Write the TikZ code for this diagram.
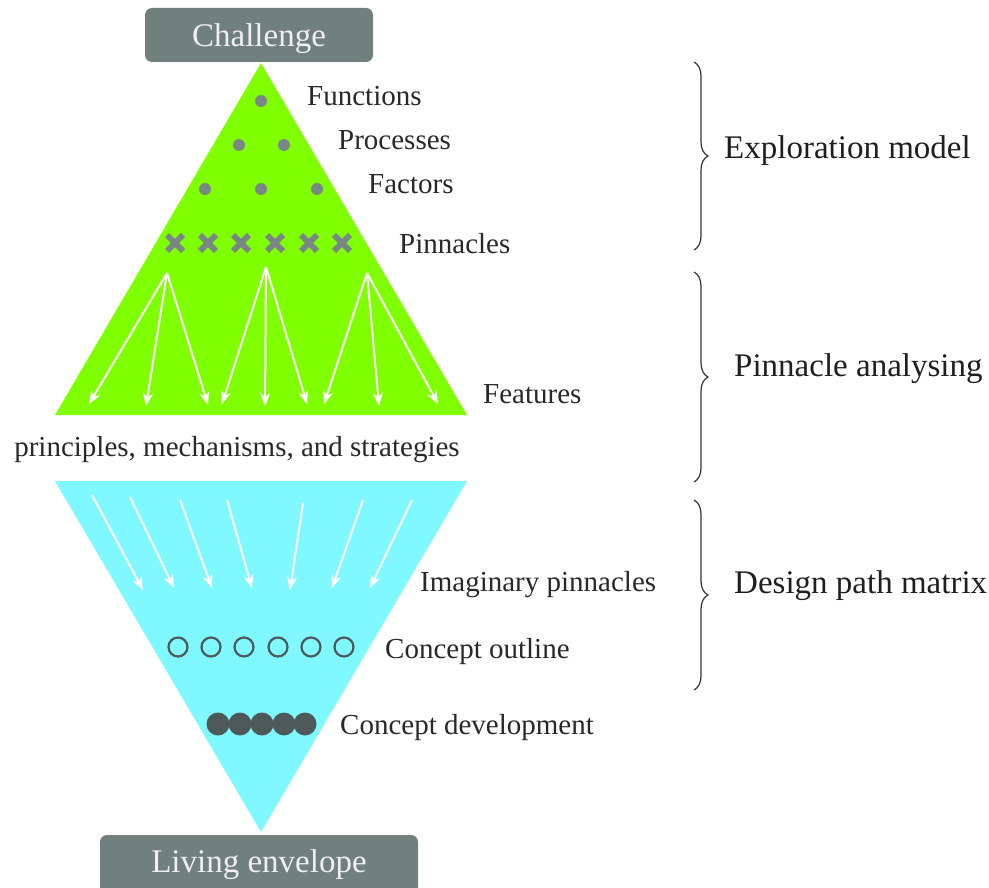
\documentclass[tikz,border=0pt]{standalone}
\usepackage{fontspec}
\setmainfont{Liberation Serif}
\usetikzlibrary{arrows.meta,decorations.pathreplacing}
\definecolor{boxgray}{RGB}{112,128,125}
\definecolor{dotgray}{RGB}{120,135,134}
\definecolor{darkcirc}{RGB}{77,90,89}
\definecolor{lime}{RGB}{128,255,0}
\definecolor{aqua}{RGB}{128,248,255}
\definecolor{txt}{RGB}{40,40,40}
\tikzset{
  titlebox/.style={fill=boxgray,rounded corners=7pt,text=white!94!black,font=\fontsize{33}{38}\selectfont,inner sep=0pt},
  lbl/.style={anchor=base west,text=txt,font=\fontsize{29}{34}\selectfont,inner sep=0pt},
  biglbl/.style={anchor=base west,text=black!88,font=\fontsize{33}{38}\selectfont,inner sep=0pt},
  dotmark/.style={circle,fill=dotgray,minimum size=12pt,inner sep=0pt},
  opencirc/.style={circle,draw=darkcirc,line width=2.2pt,minimum size=19pt,inner sep=0pt},
  fullcirc/.style={circle,fill=darkcirc,minimum size=23pt,inner sep=0pt},
  warrow/.style={draw=white,line width=2pt,-{Stealth[length=13pt,width=10pt]}},
  crossline/.style={draw=dotgray,line width=6pt},
  bracestyle/.style={draw=black!80,line width=1.2pt,decorate,decoration={brace,amplitude=14pt}},
}
\begin{document}
\begin{tikzpicture}[x=1pt,y=-1pt]
\useasboundingbox (0,0) rectangle (989,888);
% shapes
\fill[lime] (261,63) -- (467,415) -- (55,415) -- cycle;
\fill[aqua] (55,481) -- (467,481) -- (261,832) -- cycle;
% title boxes
\path[titlebox] (145,8) rectangle (373,62);
\node[titlebox,anchor=base,fill=none] (challenge) at (259,47) {Challenge};
\path[titlebox] (100,835) rectangle (418,900);
\node[titlebox,anchor=base,fill=none] (living) at (259,872) {Living envelope};
% dots
\node[dotmark] (d1) at (261,101) {};
\node[dotmark] (d2) at (239,145) {};
\node[dotmark] (d3) at (284,145) {};
\node[dotmark] (d4) at (205,189) {};
\node[dotmark] (d5) at (261,189) {};
\node[dotmark] (d6) at (317,189) {};
% crosses
\foreach \x/\n in {175/1,208/2,241/3,275/4,309/5,342/6}{
  \coordinate (x\n) at (\x,243);
  \draw[crossline] ([shift={(-8,-8)}]x\n) -- ([shift={(8,8)}]x\n);
  \draw[crossline] ([shift={(-8,8)}]x\n) -- ([shift={(8,-8)}]x\n);
}
% labels upper
\node[lbl] (functions) at (307,106) {Functions};
\node[lbl] (processes) at (338,150) {Processes};
\node[lbl] (factors) at (368,194) {Factors};
\node[lbl] (pinnacles) at (399,254) {Pinnacles};
\node[lbl] (features) at (483,403) {Features};
\node[lbl,anchor=base] (principles) at (237,456) {principles, mechanisms, and strategies};
% white arrows in green triangle
\coordinate (s1) at (167,273);
\coordinate (s2) at (266,267);
\coordinate (s3) at (367,273);
\coordinate (t1) at (89,404);
\coordinate (t2) at (146,406);
\coordinate (t3) at (208,405);
\coordinate (t4) at (222,404);
\coordinate (t5) at (265,406);
\coordinate (t6) at (307,404);
\coordinate (t7) at (324,404);
\coordinate (t8) at (379,406);
\coordinate (t9) at (438,404);
\foreach \t in {t1,t2,t3}{\draw[warrow] (s1) -- (\t);}
\foreach \t in {t4,t5,t6}{\draw[warrow] (s2) -- (\t);}
\foreach \t in {t7,t8,t9}{\draw[warrow] (s3) -- (\t);}
% white arrows in aqua triangle
\foreach \n/\ax/\ay/\bx/\by in {1/92/495/143/590,2/130/497/174/588,3/180/500/212/588,4/227/500/252/588,5/303/503/290/590,6/363/500/332/588,7/412/500/370/588}{
  \coordinate (u\n) at (\ax,\ay);
  \coordinate (v\n) at (\bx,\by);
  \draw[warrow] (u\n) -- (v\n);
}
% labels lower
\node[lbl] (imag) at (420,591) {Imaginary pinnacles};
\node[lbl] (outline) at (385,658) {Concept outline};
\node[lbl] (develop) at (340,734) {Concept development};
% circles
\foreach \x/\n in {178/1,211/2,244/3,278/4,311/5,344/6}{
  \node[opencirc] (o\n) at (\x,647) {};
}
\foreach \x/\n in {218/1,240/2,262/3,284/4,305/5}{
  \node[fullcirc] (f\n) at (\x,724) {};
}
% braces
\draw[bracestyle] (694,62) -- (694,250);
\draw[bracestyle] (694,272) -- (694,482);
\draw[bracestyle] (694,500) -- (694,690);
\node[biglbl] (explore) at (724,159) {Exploration model};
\node[biglbl] (analyse) at (734,376) {Pinnacle analysing};
\node[biglbl] (design) at (734,593) {Design path matrix};
\end{tikzpicture}
\end{document}
